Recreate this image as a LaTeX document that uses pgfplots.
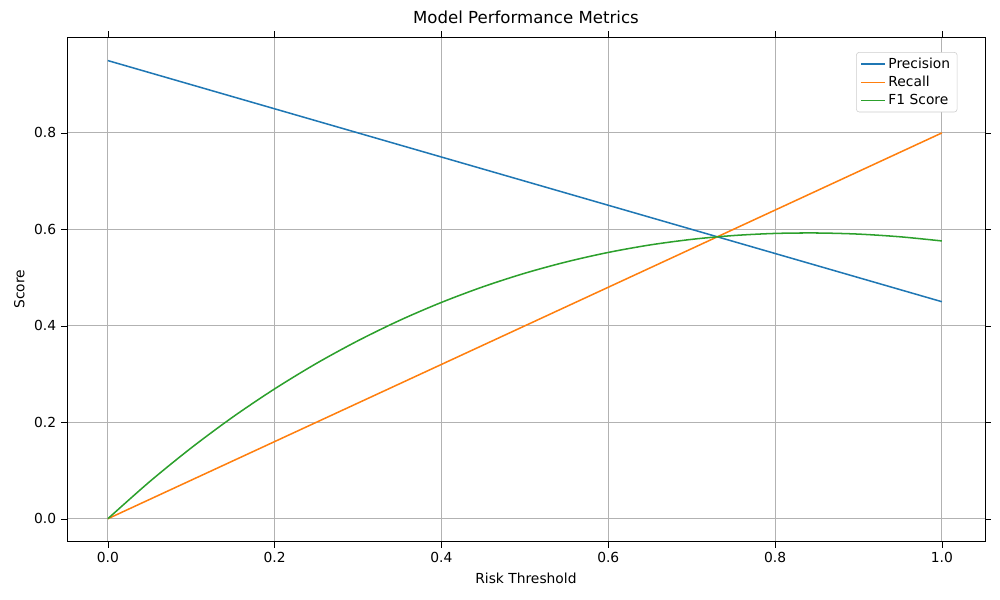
\documentclass[border=0pt]{standalone}
\usepackage{pgfplots}
\pgfplotsset{compat=1.18}
\usepackage{fontspec}
\setmainfont{DejaVu Sans}
\definecolor{c1}{HTML}{1F77B4}
\definecolor{c2}{HTML}{FF7F0E}
\definecolor{c3}{HTML}{2CA02C}
\begin{document}
\fontsize{10}{12}\selectfont
\begin{tikzpicture}
\useasboundingbox (-48.4pt,-41.9pt) rectangle (674.6pt,391.7pt);
\begin{axis}[at={(0,0)},anchor=south west,scale only axis,width=663.7pt,height=365pt,
 xmin=-0.049,xmax=1.0516,ymin=-0.0477,ymax=0.999,
 xtick={0,0.2,...,1},ytick={0,0.2,...,0.8},
 xticklabel style={/pgf/number format/.cd,fixed,fixed zerofill,precision=1},
 yticklabel style={/pgf/number format/.cd,fixed,fixed zerofill,precision=1},
 /pgf/number format/assume math mode=true,
 grid=major,major grid style={gray!60,line width=0.6pt},
 tick align=outside,tick style={black},
 title={\fontsize{12}{14}\selectfont Model Performance Metrics},
 xlabel={Risk Threshold},ylabel={Score},
 legend pos=north east,legend cell align=left,
 legend style={draw=gray!40,rounded corners=2pt,font=\fontsize{10}{12}\selectfont},
 legend image code/.code={\draw[#1] (0cm,0cm) -- (0.6cm,0cm);},
 every axis plot/.append style={line width=1.1pt}]
\addplot[c1] coordinates {(0,0.95) (1,0.45)};
\addlegendentry{Precision}
\addplot[c2] coordinates {(0,0) (1,0.8)};
\addlegendentry{Recall}
\addplot[c3,smooth] coordinates {(0,0) (0.05,0.0767) (0.1,0.1469) (0.15,0.2111) (0.2,0.2693) (0.25,0.3220) (0.3,0.3692) (0.35,0.4114) (0.4,0.4486) (0.45,0.4811) (0.5,0.5091) (0.55,0.5327) (0.6,0.5522) (0.65,0.5677) (0.7,0.5793) (0.75,0.5872) (0.8,0.5916) (0.85,0.5925) (0.9,0.5902) (0.95,0.5846) (1,0.576)};
\addlegendentry{F1 Score}
\end{axis}
\end{tikzpicture}
\end{document}
